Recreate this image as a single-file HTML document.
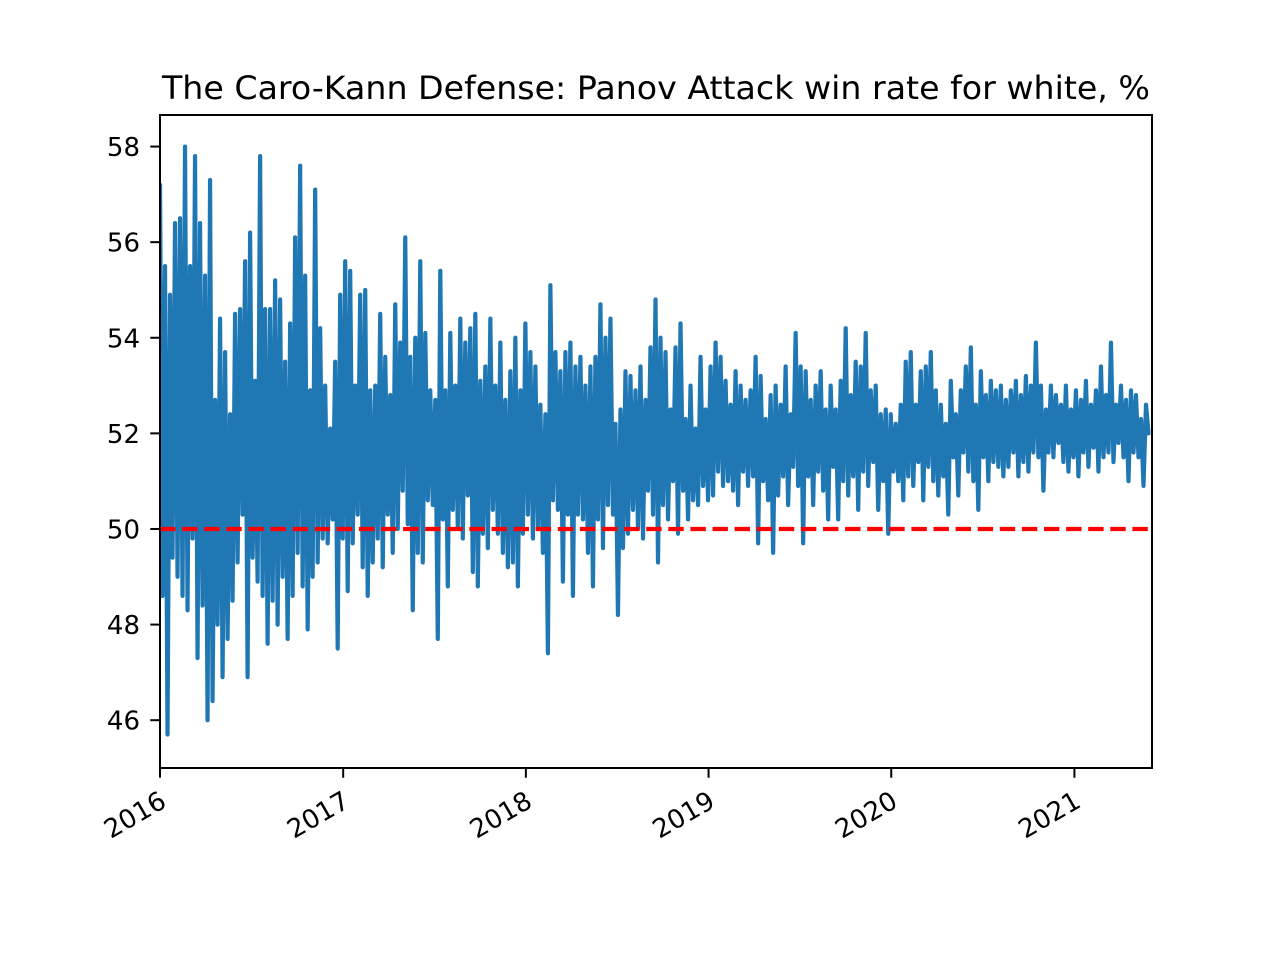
<!DOCTYPE html>
<html><head><meta charset="utf-8">
<style>
html,body{margin:0;padding:0;background:#fff;}
svg text{font-family:"DejaVu Sans","Liberation Sans",sans-serif;}
</style></head>
<body>
<svg id="chart" width="1280" height="960" xmlns="http://www.w3.org/2000/svg">
<rect width="1280" height="960" fill="#fff"/>
<text x="656" y="99" font-size="32" text-anchor="middle" textLength="988" lengthAdjust="spacingAndGlyphs">The Caro-Kann Defense: Panov Attack win rate for white, %</text>
<g id="plot"></g>
</svg>
<script>
const startDate = "2016-01-01";
const stepDays = 5;
const yTickValues = [46,48,50,52,54,56,58];
const xTickLabels = ["2016","2017","2018","2019","2020","2021"];
const referenceValue = 50;
const winRate = [
57.2,48.6,55.5,45.7,54.9,49.4,56.4,49.0,56.5,48.6,58.0,48.3,55.5,49.8,57.8,47.3,56.4,48.4,55.3,46.0,
57.3,46.4,52.7,48.0,54.4,46.9,53.7,47.7,52.4,48.5,54.5,49.3,54.6,50.3,55.6,46.9,56.2,49.4,53.1,48.9,
57.8,48.6,54.6,47.6,54.6,48.5,55.2,48.0,54.8,49.0,53.5,47.7,54.3,48.6,56.1,49.5,57.6,48.8,55.3,47.9,
52.9,49.0,57.1,49.3,54.2,49.8,53.0,49.7,52.1,50.2,53.5,47.5,54.9,
49.8,55.6,48.7,55.4,49.7,53.0,50.3,54.9,49.2,55.0,48.6,52.9,49.3,53.0,49.8,54.5,49.2,53.6,50.3,
52.8,49.5,54.7,50.0,53.9,50.8,56.1,50.1,53.6,48.3,54.0,49.5,55.6,49.3,54.1,50.6,52.9,50.5,52.7,
47.7,55.4,50.2,52.9,48.8,54.1,50.4,53.0,50.0,54.4,49.8,53.9,50.7,54.2,49.1,54.5,48.8,53.1,49.9,
53.4,49.6,54.4,50.4,53.0,49.9,53.9,49.5,52.7,49.2,53.3,49.3,54.0,48.8,52.9,49.9,54.3,50.3,53.7,
49.8,53.4,50.0,
52.6,49.5,52.4,47.4,55.1,50.6,53.7,50.4,53.3,48.9,53.7,50.3,53.9,48.6,53.4,50.3,53.6,50.2,53.0,
49.5,53.4,48.8,53.6,50.2,54.7,49.6,54.0,50.5,54.4,50.3,52.2,48.2,52.5,49.6,53.3,49.9,53.2,50.4,
52.9,50.0,53.4,49.8,52.7,50.8,53.8,50.3,54.8,49.3,54.0,50.5,53.7,50.2,52.5,51.0,53.8,49.9,54.3,
50.8,52.3,50.2,53.0,50.6,52.1,50.5,53.6,50.9,52.5,50.6,53.4,
50.7,53.9,51.2,53.6,50.9,53.1,51.0,52.6,50.8,53.3,50.5,53.0,51.2,52.7,50.9,52.9,51.1,53.6,49.7,
53.2,51.0,52.3,50.6,52.8,49.5,53.0,50.7,52.6,51.1,53.4,50.5,52.4,51.3,54.1,50.9,53.4,49.7,53.3,
51.1,52.7,50.5,53.0,51.2,53.3,50.8,52.5,50.2,53.0,51.3,52.5,50.2,53.1,51.0,54.2,50.7,52.8,51.1,
53.5,50.4,53.4,51.2,54.1,50.9,52.9,51.4,53.0,50.4,52.4,51.0,52.5,
49.9,52.4,51.2,52.2,51.0,52.6,50.6,53.5,51.1,53.7,50.9,52.6,51.4,53.3,50.6,53.4,51.3,53.7,51.0,
52.9,50.7,52.6,51.1,52.2,50.3,53.1,51.5,52.4,50.7,52.9,51.6,53.4,51.2,53.8,51.0,52.6,50.4,53.3,
51.5,52.8,51.0,53.1,51.4,52.9,51.3,53.0,51.1,52.7,51.3,52.9,51.6,53.1,51.1,52.8,51.4,53.2,51.2,
53.0,51.6,53.9,51.5,53.0,50.8,52.5,51.6,53.0,51.5,52.8,51.8,52.6,
51.4,53.0,51.2,52.5,51.5,52.9,51.1,52.7,51.6,53.1,51.3,52.6,51.7,52.9,51.2,53.4,51.5,52.8,51.6,
53.9,51.4,52.6,51.8,53.0,51.5,52.7,51.0,52.9,51.6,52.8,51.5,52.3,50.9,52.6,52.0
];

const svg = document.getElementById('chart');
const plot = document.getElementById('plot');
const NS = 'http://www.w3.org/2000/svg';
const L = 160, R = 1152, T = 115, B = 768;
const yMin = 45.0, yMax = 58.66;
const t0 = Date.UTC(2016,0,1);
const xMinDays = 0, xMaxDays = (Date.UTC(2021,5,5) - t0)/86400000;
function xScale(d){ return L + (d - xMinDays)/(xMaxDays - xMinDays)*(R-L); }
function yScale(v){ return B - (v - yMin)/(yMax - yMin)*(B-T); }
function el(tag, attrs){ const e = document.createElementNS(NS, tag); for (const k in attrs) e.setAttribute(k, attrs[k]); return e; }

const clip = el('clipPath', {id:'clipArea'});
clip.appendChild(el('rect', {x:L, y:T, width:R-L, height:B-T}));
svg.appendChild(clip);

const startDays = (Date.parse(startDate) - t0)/86400000;
let d = '';
winRate.forEach((v,i)=>{ d += (i?'L':'M') + xScale(startDays + i*stepDays).toFixed(2) + ',' + yScale(v).toFixed(2); });
const line = el('path', {d:d, fill:'none', stroke:'#1f77b4', 'stroke-width':'4.2', 'stroke-linejoin':'round', 'stroke-linecap':'round', 'clip-path':'url(#clipArea)'});


plot.appendChild(line);

const ref = el('line', {x1:L, x2:R, y1:yScale(referenceValue), y2:yScale(referenceValue), stroke:'#ff0000', 'stroke-width':'4.2', 'stroke-dasharray':'15.4,6.7'});


plot.appendChild(ref);

const frame = el('rect', {x:L, y:T, width:R-L, height:B-T, fill:'none', stroke:'#000', 'stroke-width':'2'});


plot.appendChild(frame);

yTickValues.forEach(v=>{
  const y = yScale(v);
  const tk = el('line', {x1:L-9.7, x2:L, y1:y, y2:y, stroke:'#000', 'stroke-width':'2'});
  
  
  plot.appendChild(tk);
  const tx = el('text', {x:L-20, y:y+9.5, 'font-size':'26', 'text-anchor':'end'});
  tx.textContent = v;
  
  
  plot.appendChild(tx);
});

xTickLabels.forEach(lbl=>{
  const days = (Date.UTC(+lbl,0,1) - t0)/86400000;
  const x = xScale(days);
  const tk = el('line', {x1:x, x2:x, y1:B, y2:B+9.7, stroke:'#000', 'stroke-width':'2'});
  
  
  plot.appendChild(tk);
  const ax = x + 8, ay = B + 38;
  const tx = el('text', {x:ax, y:ay, 'font-size':'26', 'text-anchor':'end', transform:'rotate(-30 '+ax+' '+ay+')'});
  tx.textContent = lbl;
  
  
  plot.appendChild(tx);
});
</script>
</body></html>
